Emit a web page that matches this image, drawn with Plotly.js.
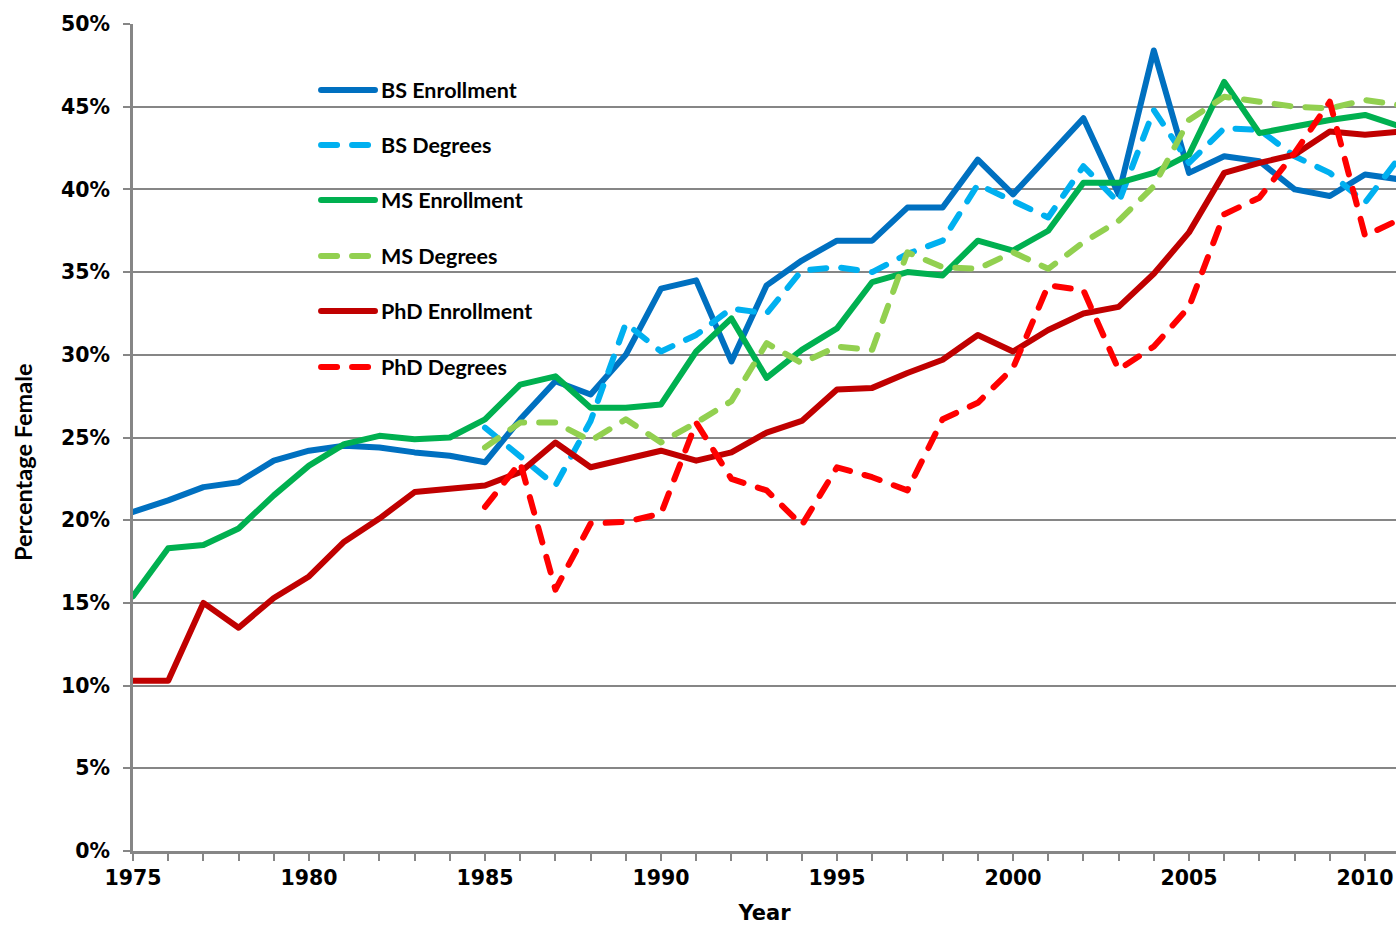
<!DOCTYPE html>
<html>
<head>
<meta charset="utf-8">
<script src="https://cdn.plot.ly/plotly-3.0.1.min.js"></script>
<style>
  html, body { margin: 0; padding: 0; background: #ffffff; }
  #chart { width: 1396px; height: 925px; }
  .scatterlayer .js-line { stroke-linecap: round !important; stroke-linejoin: round !important; }
  .shapelayer path { stroke-linecap: round !important; }
</style>
</head>
<body>
<div id="chart"></div>
<script>
// ---- Data (percentage female) ----
const enrollYears = [1975,1976,1977,1978,1979,1980,1981,1982,1983,1984,1985,1986,1987,1988,1989,1990,1991,1992,1993,1994,1995,1996,1997,1998,1999,2000,2001,2002,2003,2004,2005,2006,2007,2008,2009,2010,2011];
const degreeYears = [1985,1986,1987,1988,1989,1990,1991,1992,1993,1994,1995,1996,1997,1998,1999,2000,2001,2002,2003,2004,2005,2006,2007,2008,2009,2010,2011];

const bsEnrollment  = [20.5,21.2,22.0,22.3,23.6,24.2,24.5,24.4,24.1,23.9,23.5,26.1,28.4,27.6,30.0,34.0,34.5,29.6,34.2,35.7,36.9,36.9,38.9,38.9,41.8,39.7,42.0,44.3,39.7,48.4,41.0,42.0,41.7,40.0,39.6,40.9,40.6];
const bsDegrees     = [25.6,23.8,22.1,26.0,31.9,30.2,31.2,32.8,32.5,35.1,35.3,35.0,36.1,36.9,40.3,39.3,38.3,41.4,39.2,44.8,41.6,43.7,43.6,42.0,41.0,39.2,42.0];
const msEnrollment  = [15.4,18.3,18.5,19.5,21.5,23.3,24.6,25.1,24.9,25.0,26.1,28.2,28.7,26.8,26.8,27.0,30.2,32.2,28.6,30.3,31.6,34.4,35.0,34.8,36.9,36.3,37.5,40.4,40.4,41.0,42.1,46.5,43.4,43.8,44.2,44.5,43.8];
const msDegrees     = [24.4,25.9,25.9,24.8,26.1,24.7,25.9,27.2,30.7,29.5,30.5,30.3,36.2,35.3,35.2,36.2,35.2,36.8,38.1,40.2,44.2,45.6,45.3,45.0,44.9,45.4,45.1];
const phdEnrollment = [10.3,10.3,15.0,13.5,15.3,16.6,18.7,20.1,21.7,21.9,22.1,22.9,24.7,23.2,23.7,24.2,23.6,24.1,25.3,26.0,27.9,28.0,28.9,29.7,31.2,30.2,31.5,32.5,32.9,34.9,37.4,41.0,41.6,42.1,43.5,43.3,43.5];
const phdDegrees    = [20.8,23.5,15.8,19.8,19.9,20.4,25.9,22.5,21.8,19.7,23.2,22.6,21.8,26.1,27.1,29.2,34.2,33.9,29.1,30.5,32.9,38.5,39.5,42.2,45.3,37.2,38.2];

const seriesNames = ["BS Enrollment","BS Degrees","MS Enrollment","MS Degrees","PhD Enrollment","PhD Degrees"];
const yTickValues = [0,5,10,15,20,25,30,35,40,45,50];
const xTickValues = [1975,1980,1985,1990,1995,2000,2005,2010];

// ---- Styles ----
const colors = ["#0070C0","#00B0F0","#00B050","#92D050","#C00000","#FF0000"];
const dashes = ["solid","16px,15px","solid","16px,15px","solid","16px,15px"];
const LW = 6;

const seriesX = [enrollYears, degreeYears, enrollYears, degreeYears, enrollYears, degreeYears];
const seriesY = [bsEnrollment, bsDegrees, msEnrollment, msDegrees, phdEnrollment, phdDegrees];

const traces = seriesNames.map((name, i) => ({
  type: "scatter",
  mode: "lines",
  name: name,
  x: seriesX[i],
  y: seriesY[i],
  line: { color: colors[i], width: LW, dash: dashes[i] },
  hoverinfo: "x+y+name"
}));

// ---- Custom legend (positions in paper coords) ----
const legendRowsY = [0.9202, 0.8537, 0.7872, 0.7195, 0.6530, 0.5853];
const legX0 = 0.1489, legX1 = 0.1916, legTextX = 0.1950;
const shapes = [];
const annotations = [];
seriesNames.forEach((name, i) => {
  shapes.push({
    type: "line", xref: "paper", yref: "paper",
    x0: legX0, x1: legX1, y0: legendRowsY[i], y1: legendRowsY[i],
    line: { color: colors[i], width: LW, dash: dashes[i] }
  });
  annotations.push({
    xref: "paper", yref: "paper", x: legTextX, y: legendRowsY[i],
    xanchor: "left", yanchor: "middle", showarrow: false,
    text: name,
    font: { family: "Lato, 'Open Sans', sans-serif", size: 21.5, color: "#000000", weight: "bold" }
  });
});
annotations.push({
  xref: "paper", yref: "paper", x: -0.0870, y: 0.4704,
  xanchor: "center", yanchor: "middle", showarrow: false, textangle: -90,
  text: "Percentage Female",
  font: { family: "Lato, 'Open Sans', sans-serif", size: 23.5, color: "#000000", weight: "bold" }
});

const axisGray = "#868686";
const tickFont = { family: "'DejaVu Sans', sans-serif", size: 20.5, color: "#000000", weight: "bold" };

const layout = {
  width: 1396, height: 925,
  margin: { l: 133, r: 0, t: 24, b: 74, pad: 0 },
  paper_bgcolor: "#ffffff", plot_bgcolor: "#ffffff",
  showlegend: false,
  xaxis: {
    range: [1975, 2010.88],
    tickmode: "array", tickvals: xTickValues, ticktext: xTickValues.map(String),
    ticks: "outside", ticklen: 7, tickwidth: 2, tickcolor: axisGray,
    minor: { dtick: 1, tick0: 1975, ticks: "outside", ticklen: 7, tickwidth: 2, tickcolor: axisGray, showgrid: false },
    showgrid: false, zeroline: false,
    showline: true, linecolor: axisGray, linewidth: 2.5,
    tickfont: tickFont,
    ticklabelstandoff: 0,
    title: { text: "Year", font: { family: "'DejaVu Sans', sans-serif", size: 21, color: "#000000", weight: "bold" }, standoff: 17 }
  },
  yaxis: {
    range: [0, 50],
    tickmode: "array", tickvals: yTickValues, ticktext: yTickValues.map(v => v + "%"),
    ticks: "outside", ticklen: 7, tickwidth: 2, tickcolor: axisGray,
    showgrid: true, gridcolor: axisGray, gridwidth: 2,
    zeroline: false,
    showline: true, linecolor: axisGray, linewidth: 2.5,
    tickfont: tickFont,
    ticklabelstandoff: 9
  },
  shapes: shapes,
  annotations: annotations
};

Plotly.newPlot("chart", traces, layout, { displayModeBar: false, staticPlot: false });
</script>
</body>
</html>
